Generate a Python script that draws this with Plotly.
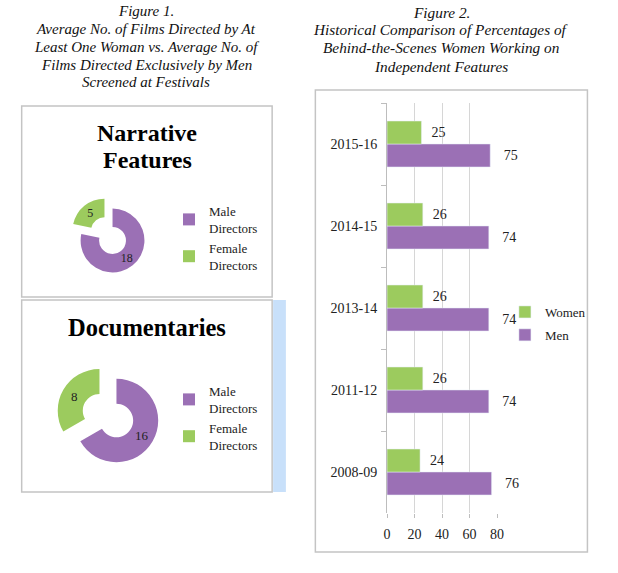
import plotly.graph_objects as go

W, H = 618, 573

# ---- data ----
pie_labels = ["Male<br>Directors", "Female<br>Directors"]
pie_labels_doc = ["Male<br>Directors\u200b", "Female<br>Directors\u200b"]
narrative_values = [18, 5]
documentary_values = [16, 8]

seasons = ["2008-09", "2011-12", "2013-14", "2014-15", "2015-16"]
women_pct = [24, 26, 26, 26, 25]
men_pct = [76, 74, 74, 74, 75]
x_ticks = [0, 20, 40, 60, 80]

PURPLE = "#9B70B5"
GREEN = "#9CCB5E"
SERIF = "Liberation Serif"


def px(x):
    return x / W


def py(y):
    return 1 - y / H


def dom(cx, cy, half):
    return dict(x=[px(cx - half), px(cx + half)], y=[py(cy + half), py(cy - half)])


fig = go.Figure()

fig.add_trace(go.Pie(
    labels=pie_labels, values=narrative_values, hole=0.42, sort=False,
    direction="clockwise", rotation=0, pull=[0, 0.4],
    marker=dict(colors=[PURPLE, GREEN]),
    textinfo="value", textposition="inside", insidetextorientation="horizontal",
    textfont=dict(family=SERIF, size=12, color="#222"),
    domain=dom(110.5, 240.5, 32.5 * 1.4), legend="legend", hoverinfo="label+value",
))

fig.add_trace(go.Pie(
    labels=pie_labels_doc, values=documentary_values, hole=0.4, sort=False,
    direction="clockwise", rotation=0, pull=[0, 0.47],
    marker=dict(colors=[PURPLE, GREEN]),
    textinfo="value", textposition="inside", insidetextorientation="horizontal",
    textfont=dict(family=SERIF, size=13, color="#222"),
    domain=dom(114.5, 420.5, 42.5 * 1.47), legend="legend2", hoverinfo="label+value",
))

bar_font = dict(family=SERIF, size=14, color="#222")
fig.add_trace(go.Bar(
    y=seasons, x=men_pct, name="Men", orientation="h", marker_color=PURPLE,
    text=men_pct, texttemplate="\u00a0\u00a0\u00a0%{x}", textposition="outside",
    textfont=bar_font, cliponaxis=False,
    xaxis="x", yaxis="y", legend="legend3", legendgroup="m", legendrank=2,
))
fig.add_trace(go.Bar(
    y=seasons, x=women_pct, name="Women", orientation="h", marker_color=GREEN,
    text=women_pct, texttemplate="\u00a0\u00a0%{x}", textposition="outside",
    textfont=bar_font, cliponaxis=False,
    xaxis="x", yaxis="y", legend="legend3", legendgroup="w", legendrank=1,
))

shapes = [
    dict(type="rect", xref="paper", yref="paper", x0=px(18), x1=px(273), y0=py(297), y1=py(106),
         line=dict(color="#C4C4C4", width=1.5), fillcolor="rgba(0,0,0,0)"),
    dict(type="rect", xref="paper", yref="paper", x0=px(274), x1=px(287), y0=py(492), y1=py(300),
         line=dict(width=0), fillcolor="#C8E0FA", layer="below"),
    dict(type="rect", xref="paper", yref="paper", x0=px(18), x1=px(273), y0=py(492), y1=py(300),
         line=dict(color="#C4C4C4", width=1.5), fillcolor="rgba(0,0,0,0)"),
    dict(type="rect", xref="paper", yref="paper", x0=px(317), x1=px(594), y0=py(552), y1=py(90),
         line=dict(color="#C4C4C4", width=1.5), fillcolor="rgba(0,0,0,0)"),
]

annotations = []
fig1_lines = ["Figure 1.", "Average No. of Films Directed by At", "Least One Woman vs. Average No. of",
              "Films Directed Exclusively by Men", "Screened at Festivals"]
fig1_y = [11, 29, 47, 65, 82]
for t, y in zip(fig1_lines, fig1_y):
    annotations.append(dict(text="<i>" + t + "</i>", x=px(145), y=py(y), xref="paper", yref="paper",
                            xanchor="center", yanchor="middle", showarrow=False,
                            font=dict(family=SERIF, size=15, color="#111")))
fig2_lines = ["Figure 2.", "Historical Comparison of Percentages of", "Behind-the-Scenes Women Working on",
              "Independent Features"]
fig2_y = [12, 30, 48, 66]
for t, y in zip(fig2_lines, fig2_y):
    annotations.append(dict(text="<i>" + t + "</i>", x=px(445), y=py(y), xref="paper", yref="paper",
                            xanchor="center", yanchor="middle", showarrow=False,
                            font=dict(family=SERIF, size=15.3, color="#111")))

for t, y in zip(["Narrative", "Features"], [133, 160]):
    annotations.append(dict(text="<b>" + t + "</b>", x=px(146), y=py(y), xref="paper",
                            yref="paper", xanchor="center", yanchor="middle", showarrow=False,
                            font=dict(family=SERIF, size=24, color="#000")))
annotations.append(dict(text="<b>Documentaries</b>", x=px(146), y=py(327), xref="paper",
                        yref="paper", xanchor="center", yanchor="middle", showarrow=False,
                        font=dict(family=SERIF, size=24.5, color="#000")))

legend_font = dict(family=SERIF, size=13, color="#222")

fig.update_layout(
    width=W, height=H, autosize=False,
    margin=dict(l=0, r=0, t=0, b=0),
    paper_bgcolor="white", plot_bgcolor="white",
    barmode="group", bargap=0.44, bargroupgap=0,
    shapes=shapes, annotations=annotations,
    xaxis=dict(domain=[px(390), px(502)], range=[0, 80], tickvals=x_ticks,
               showgrid=True, gridcolor="#D6D6D6", gridwidth=1, zeroline=False,
               showline=False, ticks="outside", ticklen=4, tickcolor="#BDBDBD",
               ticklabelstandoff=4,
               tickfont=dict(family=SERIF, size=14, color="#222"), anchor="y"),
    yaxis=dict(type="category", domain=[py(513), py(103)], categoryorder="array", categoryarray=seasons,
               showline=True, linecolor="#BDBDBD", linewidth=1, showgrid=False,
               ticks="outside", tickson="boundaries", ticklen=5, tickcolor="#BDBDBD",
               ticklabelstandoff=6,
               tickfont=dict(family=SERIF, size=14, color="#222"), anchor="x"),
    legend=dict(x=px(168), y=py(196), xanchor="left", yanchor="top", bgcolor="rgba(0,0,0,0)",
                font=legend_font, traceorder="normal"),
    legend2=dict(x=px(168), y=py(376), xanchor="left", yanchor="top", bgcolor="rgba(0,0,0,0)",
                 font=legend_font, traceorder="normal"),
    legend3=dict(x=px(510), y=py(297), xanchor="left", yanchor="top", bgcolor="rgba(0,0,0,0)",
                 font=legend_font, traceorder="grouped", tracegroupgap=3),
)

fig.write_html("out.html", config={"displayModeBar": False},
               post_script="document.body.style.margin='0';document.body.style.overflow='hidden';")
